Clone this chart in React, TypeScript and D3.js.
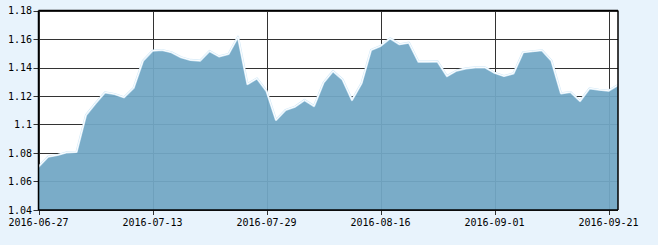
import React from "react";
import * as d3 from "d3";

const dates: string[] = [
  "2016-06-27","2016-06-28","2016-06-29","2016-06-30","2016-07-01",
  "2016-07-04","2016-07-05","2016-07-06","2016-07-07","2016-07-08",
  "2016-07-11","2016-07-12","2016-07-13","2016-07-14","2016-07-15",
  "2016-07-18","2016-07-19","2016-07-20","2016-07-21","2016-07-22",
  "2016-07-25","2016-07-26","2016-07-27","2016-07-28","2016-07-29",
  "2016-08-01","2016-08-02","2016-08-03","2016-08-04","2016-08-05",
  "2016-08-08","2016-08-09","2016-08-10","2016-08-11","2016-08-12",
  "2016-08-15","2016-08-16","2016-08-17","2016-08-18","2016-08-19",
  "2016-08-22","2016-08-23","2016-08-24","2016-08-25","2016-08-26",
  "2016-08-29","2016-08-30","2016-08-31","2016-09-01","2016-09-02",
  "2016-09-05","2016-09-06","2016-09-07","2016-09-08","2016-09-09",
  "2016-09-12","2016-09-13","2016-09-14","2016-09-19","2016-09-20",
  "2016-09-21","2016-09-22",
];

const values: number[] = [
  1.0704, 1.0774, 1.0786, 1.0805, 1.0807, 1.1067, 1.1149, 1.1226, 1.1214, 1.1191,
  1.1256, 1.1448, 1.1518, 1.1523, 1.1507, 1.1472, 1.1453, 1.1448, 1.1516, 1.1478,
  1.1495, 1.1616, 1.1284, 1.1324, 1.1235, 1.1032, 1.1102, 1.1125, 1.1172, 1.1130,
  1.1294, 1.1375, 1.1317, 1.1172, 1.1289, 1.1523, 1.1551, 1.1605, 1.1563, 1.1574,
  1.1441, 1.1441, 1.1443, 1.1340, 1.1378, 1.1394, 1.1401, 1.1401, 1.1363, 1.1340,
  1.1359, 1.1507, 1.1514, 1.1521, 1.1448, 1.1219, 1.1228, 1.1165, 1.1254, 1.1244,
  1.1237, 1.1277,
];

const xTickLabels: string[] = [
  "2016-06-27", "2016-07-13", "2016-07-29", "2016-08-16", "2016-09-01", "2016-09-21",
];

const yTicks: number[] = [1.04, 1.06, 1.08, 1.1, 1.12, 1.14, 1.16, 1.18];

const W = 658;
const H = 245;
const left = 38.5;
const right = 618;
const top = 10.5;
const bottom = 210;

export default function App() {
  const x = d3.scalePoint<string>().domain(dates).range([left, right]);
  const y = d3.scaleLinear().domain([1.04, 1.18]).range([bottom, top]);
  const data = dates.map((d, i) => ({ d, v: values[i] }));

  const area = d3
    .area<{ d: string; v: number }>()
    .x((p) => x(p.d) as number)
    .y0(bottom)
    .y1((p) => y(p.v));
  const line = d3
    .line<{ d: string; v: number }>()
    .x((p) => x(p.d) as number)
    .y((p) => y(p.v));

  const font = "'DejaVu Sans Mono', monospace";

  return (
    <svg
      width={W}
      height={H}
      style={{ position: "absolute", left: 0, top: 0, display: "block" }}
    >
      <rect x={0} y={0} width={W} height={H} fill="#e8f3fc" />
      <rect x={left} y={top} width={right - left} height={bottom - top} fill="#ffffff" />
      {yTicks.map((t) => (
        <line
          key={"gy" + t}
          x1={left - 5}
          x2={right}
          y1={Math.round(y(t)) + 0.5}
          y2={Math.round(y(t)) + 0.5}
          stroke="#333333"
          strokeWidth={1}
        />
      ))}
      {xTickLabels.map((t) => (
        <line
          key={"gx" + t}
          x1={Math.round(x(t) as number) + 0.5}
          x2={Math.round(x(t) as number) + 0.5}
          y1={top}
          y2={bottom + 5}
          stroke="#333333"
          strokeWidth={1}
        />
      ))}
      <path d={area(data) || ""} fill="#72a7c5" fillOpacity={0.94} />
      <path d={line(data) || ""} fill="none" stroke="#d4eaf8" strokeWidth={2.2} strokeLinejoin="round" />
      <path d={line(data) || ""} fill="none" stroke="#ffffff" strokeWidth={1} strokeLinejoin="round" />
      <line x1={left} x2={left} y1={top} y2={bottom} stroke="#000" strokeWidth={1.5} />
      <line x1={left} x2={right} y1={bottom} y2={bottom} stroke="#000" strokeWidth={1.5} />
      <line x1={left} x2={right} y1={top} y2={top} stroke="#000" strokeWidth={1.5} />
      <line x1={right} x2={right} y1={top} y2={bottom} stroke="#000" strokeWidth={1.5} />
      {yTicks.map((t) => (
        <text
          key={"ly" + t}
          x={32}
          y={y(t)}
          dy="0.35em"
          textAnchor="end"
          fontFamily={font}
          fontSize={10}
          fill="#000"
        >
          {d3.format("")(+t.toFixed(2))}
        </text>
      ))}
      {xTickLabels.map((t) => (
        <text
          key={"lx" + t}
          x={x(t) as number}
          y={226}
          textAnchor="middle"
          fontFamily={font}
          fontSize={10}
          fill="#000"
        >
          {t}
        </text>
      ))}
    </svg>
  );
}
